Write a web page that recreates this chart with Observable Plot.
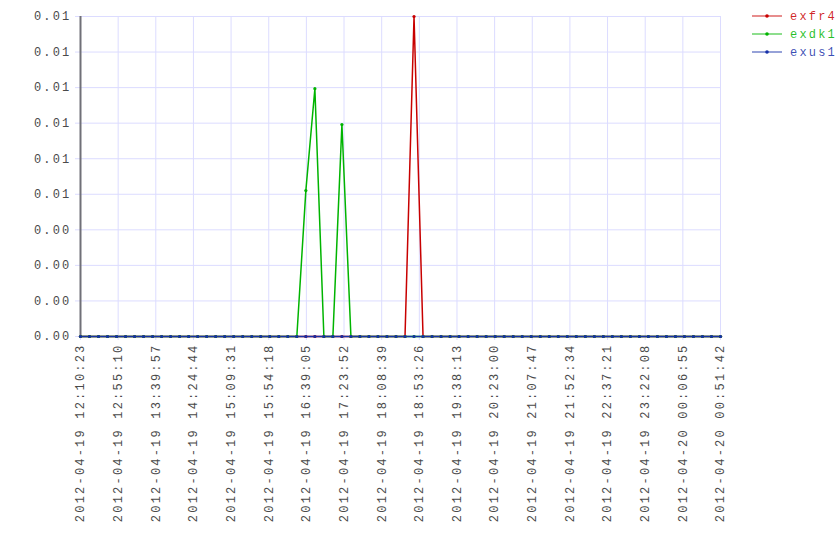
<!DOCTYPE html>
<html><head><meta charset="utf-8">
<script src="https://cdn.jsdelivr.net/npm/d3@7"></script>
<script src="https://cdn.jsdelivr.net/npm/@observablehq/plot@0.6"></script>
<style>
body{margin:0;background:#fff}
#chart{position:relative;width:840px;height:560px}
#chart svg text{letter-spacing:2.2px}
</style>
</head><body><div id="chart"></div>
<script>
const startTime = "2012-04-19 12:10:23";
// sample times, seconds after startTime
const offsets = [0,643,1287,1930,2573,3217,3860,4504,5147,5790,6434,7077,7720,8364,9007,9650,10294,10937,11581,12224,12867,13511,14154,14797,15441,16084,16728,17371,18014,18658,19301,19944,20588,21231,21874,22518,23161,23805,24448,25091,25735,26378,27021,27665,28308,28951,29595,30238,30882,31525,32168,32812,33455,34098,34742,35385,36029,36672,37315,37959,38602,39245,39889,40532,41175,41819,42462,43106,43749,44392,45036,45679];
const seriesNames = ["exfr4","exdk1","exus1"];
const seriesColors = ["#c80000","#00b400","#1530a8"];
const exfr4 = [0,0,0,0,0,0,0,0,0,0, 0,0,0,0,0,0,0,0,0,0, 0,0,0,0,0,0,0,0,0,0, 0,0,0,0,0,0,0,0.0125,0,0, 0,0,0,0,0,0,0,0,0,0, 0,0,0,0,0,0,0,0,0,0, 0,0,0,0,0,0,0,0,0,0, 0,0];
const exdk1 = [0,0,0,0,0,0,0,0,0,0, 0,0,0,0,0,0,0,0,0,0, 0,0,0,0,0,0.0057,0.00968,0,0,0.00828, 0,0,0,0,0,0,0,0,0,0, 0,0,0,0,0,0,0,0,0,0, 0,0,0,0,0,0,0,0,0,0, 0,0,0,0,0,0,0,0,0,0, 0,0];
const exus1 = [0,0,0,0,0,0,0,0,0,0, 0,0,0,0,0,0,0,0,0,0, 0,0,0,0,0,0,0,0,0,0, 0,0,0,0,0,0,0,0,0,0, 0,0,0,0,0,0,0,0,0,0, 0,0,0,0,0,0,0,0,0,0, 0,0,0,0,0,0,0,0,0,0, 0,0];
const xTickLabels = ["2012-04-19 12:10:23","2012-04-19 12:55:10","2012-04-19 13:39:57","2012-04-19 14:24:44","2012-04-19 15:09:31","2012-04-19 15:54:18","2012-04-19 16:39:05","2012-04-19 17:23:52","2012-04-19 18:08:39","2012-04-19 18:53:26","2012-04-19 19:38:13","2012-04-19 20:23:00","2012-04-19 21:07:47","2012-04-19 21:52:34","2012-04-19 22:37:21","2012-04-19 23:22:08","2012-04-20 00:06:55","2012-04-20 00:51:42"];
const yMax = 0.0125;
const yDivisions = 9;

const parse = d3.utcParse("%Y-%m-%d %H:%M:%S");
const fmt = d3.utcFormat("%Y-%m-%d %H:%M:%S");
const t0 = parse(startTime);
const seriesValues = [exfr4, exdk1, exus1];
const rows = [];
seriesNames.forEach((name, si) => {
  offsets.forEach((o, i) => rows.push({series: name, time: new Date(+t0 + o * 1000), value: seriesValues[si][i]}));
});
const xTicks = xTickLabels.map(parse);
const yTicks = d3.range(yDivisions + 1).map(k => yMax * k / yDivisions);

const font = '"Liberation Mono", "DejaVu Sans Mono", monospace';
const textColor = "#4a4a4a";
const plot = Plot.plot({
  width: 840, height: 560,
  marginLeft: 80, marginRight: 120, marginTop: 16, marginBottom: 224,
  style: {fontFamily: font, fontSize: "12px", color: textColor, background: "#fff"},
  x: {type: "utc", domain: [xTicks[0], xTicks[xTicks.length - 1]]},
  y: {domain: [0, yMax]},
  color: {domain: seriesNames, range: seriesColors},
  marks: [
    Plot.gridX(xTicks, {stroke: "#dcdcff", strokeOpacity: 1}),
    Plot.gridY(yTicks, {stroke: "#dcdcff", strokeOpacity: 1}),
    Plot.axisX(xTicks, {tickRotate: -90, tickFormat: fmt, tickSize: 4, tickPadding: 3, stroke: "#dcdcff", fill: textColor, label: null}),
    Plot.axisY(yTicks, {tickFormat: d3.format(".2f"), tickSize: 5, tickPadding: 4, stroke: "#dcdcff", fill: textColor, label: null}),
    Plot.ruleX([xTicks[0]], {stroke: "#707078", strokeWidth: 2}),
    Plot.line(rows, {x: "time", y: "value", stroke: "series", z: "series", strokeWidth: 1.5}),
    Plot.dot(rows, {x: "time", y: "value", fill: "series", r: 1.6, stroke: null})
  ]
});
document.getElementById("chart").appendChild(plot);

// legend in the right margin
const svg = d3.select(plot);
const lg = svg.append("g").attr("font-family", font).attr("font-size", 12).attr("text-anchor", "start");
seriesNames.forEach((name, i) => {
  const y = 16 + i * 18;
  const c = seriesColors[i];
  lg.append("line").attr("x1", 752).attr("x2", 782).attr("y1", y).attr("y2", y).attr("stroke", c).attr("stroke-opacity", 0.6).attr("stroke-width", 1.5);
  lg.append("circle").attr("cx", 767).attr("cy", y).attr("r", 1.8).attr("fill", c);
  lg.append("text").attr("x", 790).attr("y", y + 4).attr("fill", c).attr("fill-opacity", 0.85).attr("text-anchor", "start").text(name);
});
</script>
</body></html>
